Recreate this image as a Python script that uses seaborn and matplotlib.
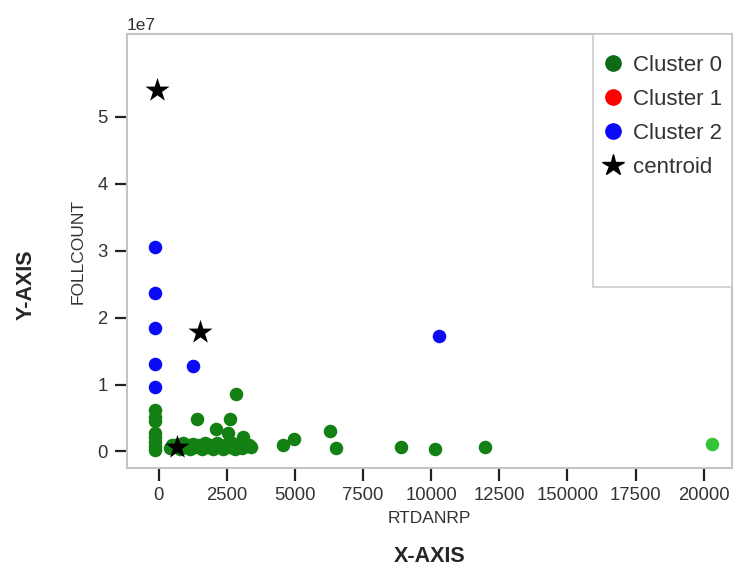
import numpy as np
import seaborn as sns
import matplotlib.pyplot as plt
from matplotlib.lines import Line2D
from matplotlib.patches import Rectangle

# cluster 0 (green), y in units of 1e7
cluster0_x = [-150, -150, -150, -150, -150, -150, -150, -150,
              400, 600, 800, 900, 1000, 1150, 1250, 1350, 1500, 1600, 1700, 1800,
              1900, 2000, 2150, 2250, 2350, 2450, 2600, 2700, 2800, 2900, 3050,
              3200, 3400,
              500, 700, 1100, 1300, 1550, 1750, 1950, 2200, 2400, 2650, 2850, 3100, 3300,
              1420, 2618, 2105, 2557, 3083, 2838, 4547, 4962, 6280, 6525,
              8900, 10155, 11960]
cluster0_y = [0.62, 0.52, 0.45, 0.27, 0.21, 0.14, 0.08, 0.02,
              0.05, 0.10, 0.04, 0.12, 0.07, 0.03, 0.11, 0.06, 0.09, 0.03, 0.12, 0.06,
              0.10, 0.04, 0.12, 0.07, 0.03, 0.10, 0.06, 0.13, 0.04, 0.09, 0.05,
              0.08, 0.06,
              0.09, 0.06, 0.09, 0.08, 0.06, 0.08, 0.07, 0.09, 0.07, 0.09, 0.07, 0.10, 0.09,
              0.48, 0.48, 0.33, 0.27, 0.21, 0.86, 0.10, 0.18, 0.30, 0.05,
              0.07, 0.04, 0.07]
cluster0_far_x = [20290]
cluster0_far_y = [0.11]

# cluster 1 (red) has no visible points
cluster1_x = []
cluster1_y = []

# cluster 2 (blue)
cluster2_x = [-150, -150, -150, -150, -150, 1250, 10270]
cluster2_y = [3.06, 2.37, 1.84, 1.30, 0.96, 1.27, 1.72]

# centroids
centroid_x = [690, -65, 1520]
centroid_y = [0.07, 5.40, 1.79]

legend_labels = ["Cluster 0", "Cluster 1", "Cluster 2", "centroid"]
xtick_vals = [0, 2500, 5000, 7500, 10000, 12500, 15000, 17500, 20000]
xtick_labels = ["0", "2500", "5000", "7500", "10000", "12500", "150000", "17500", "20000"]
ytick_vals = [0, 1, 2, 3, 4, 5]

sns.set_style("ticks")
plt.rcParams['font.family'] = ['Liberation Sans', 'DejaVu Sans']

fig = plt.figure(figsize=(7.34, 5.70), dpi=100)
ax = fig.add_axes([0.173, 0.179, 0.824, 0.761])

green = '#128012'
sns.scatterplot(x=cluster0_x, y=np.array(cluster0_y) * 1e7, color=green,
                s=95, linewidth=0, ax=ax)
sns.scatterplot(x=cluster0_far_x, y=np.array(cluster0_far_y) * 1e7, color='#35c435',
                s=95, linewidth=0, ax=ax)
if len(cluster1_x):
    sns.scatterplot(x=cluster1_x, y=np.array(cluster1_y) * 1e7, color='red',
                    s=95, linewidth=0, ax=ax)
sns.scatterplot(x=cluster2_x, y=np.array(cluster2_y) * 1e7, color='#0a0af5',
                s=95, linewidth=0, ax=ax)
sns.scatterplot(x=centroid_x, y=np.array(centroid_y) * 1e7, color='black',
                marker='*', s=330, linewidth=0, ax=ax, zorder=5)

ax.set_xlim(-1160, 21030)
ax.set_ylim(-0.246e7, 6.23e7)
ax.set_xticks(xtick_vals)
ax.set_xticklabels(xtick_labels)
ax.set_yticks(np.array(ytick_vals) * 1e7)

ax.tick_params(axis='both', length=9, width=1.6, color='#222222',
               labelsize=13.3, labelcolor='#333333', pad=5)
ax.yaxis.get_offset_text().set_fontsize(12.5)
ax.yaxis.get_offset_text().set_color('#333333')
for sp in ax.spines.values():
    sp.set_color('#c4c4c4')
    sp.set_linewidth(1.5)

ax.set_xlabel("RTDANRP", fontsize=12.5, color='#333333', labelpad=5)
ax.set_ylabel("FOLLCOUNT", fontsize=12.5, color='#333333', labelpad=8)
fig.text(0.586, 0.024, "X-AXIS", fontsize=15.5, fontweight='bold', ha='center', va='center')
fig.text(0.036, 0.5, "Y-AXIS", fontsize=15.5, fontweight='bold', rotation=90,
         ha='center', va='center')

# legend
handles = [
    Line2D([], [], marker='o', linestyle='', color='#0c6a18', markersize=11),
    Line2D([], [], marker='o', linestyle='', color='red', markersize=11),
    Line2D([], [], marker='o', linestyle='', color='#0a0af5', markersize=11),
    Line2D([], [], marker='*', linestyle='', color='black', markersize=16),
]
ax.add_patch(Rectangle((0.771, 0.417), 0.229, 0.583, transform=ax.transAxes,
                       facecolor='white', edgecolor='#cccccc', linewidth=1.2, zorder=6))
leg = ax.legend(handles, legend_labels, loc='upper left', bbox_to_anchor=(0.767, 0.972),
                frameon=False, fontsize=16, handletextpad=0.3, labelspacing=0.58,
                handlelength=1.2, borderaxespad=0)
leg.set_zorder(7)
for t in leg.get_texts():
    t.set_color('#333333')

fig.savefig("out.png", dpi=100)
